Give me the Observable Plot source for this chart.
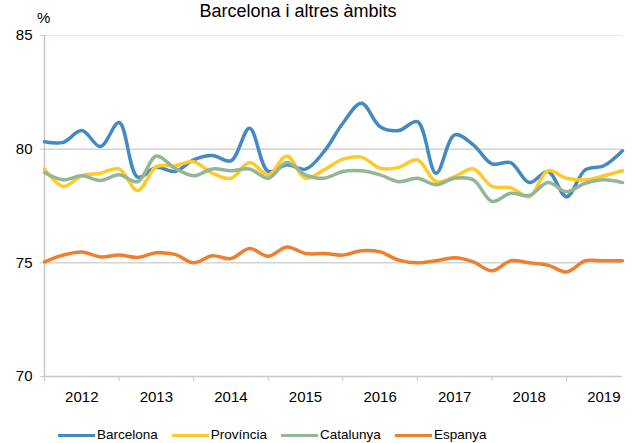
<!DOCTYPE html>
<html>
<head>
<meta charset="utf-8">
<script src="https://cdn.jsdelivr.net/npm/d3@7"></script>
<script src="https://cdn.jsdelivr.net/npm/@observablehq/plot@0.6"></script>
<style>
  html, body { margin: 0; padding: 0; background: #fff; }
  body { width: 637px; height: 443px; position: relative; overflow: hidden; font-family: "Liberation Sans", Arial, sans-serif; color: #000; }
  #title { position: absolute; top: 1px; left: 0; width: 596px; text-align: center; font-size: 18px; line-height: 20px; white-space: nowrap; }
  #unit { position: absolute; left: 37px; top: 10px; font-size: 15px; line-height: 15px; }
  #chart { position: absolute; left: 0; top: 0; }
  #legend { position: absolute; left: 58px; top: 427px; font-size: 13.5px; line-height: 16px; display: flex; align-items: center; white-space: nowrap; }
  #legend .item { display: flex; align-items: center; margin-right: 14px; }
  #legend .sw { display: inline-block; width: 37px; height: 3px; margin-right: 2px; }
</style>
</head>
<body>
<div id="title">Barcelona i altres àmbits</div>
<div id="unit">%</div>
<div id="chart"></div>
<div id="legend"></div>
<script>
// Quarterly series, 2012 Q1 … 2019 Q4 (index 0..31)
const years = ["2012", "2013", "2014", "2015", "2016", "2017", "2018", "2019"];
const seriesNames = ["Barcelona", "Província", "Catalunya", "Espanya"];
const seriesColors = ["#4389c3", "#ffc929", "#93b694", "#ee7f2d"];
const barcelona = [80.33, 80.3, 80.82, 80.12, 81.17, 78.77, 79.2, 79.02, 79.53, 79.72, 79.49, 80.92, 79.02, 79.31, 79.12, 79.9, 81.14, 82.02, 80.99, 80.82, 81.21, 78.94, 80.63, 80.19, 79.35, 79.41, 78.53, 79.02, 77.91, 79.09, 79.27, 79.93];
const provincia = [79.13, 78.36, 78.83, 78.94, 79.13, 78.18, 79.23, 79.27, 79.45, 78.94, 78.72, 79.41, 78.87, 79.7, 78.72, 79.09, 79.56, 79.65, 79.16, 79.2, 79.53, 78.57, 78.79, 79.13, 78.36, 78.31, 77.91, 79.05, 78.72, 78.65, 78.83, 79.05];
const catalunya = [78.97, 78.65, 78.83, 78.62, 78.87, 78.57, 79.7, 79.16, 78.83, 79.13, 79.05, 79.13, 78.72, 79.41, 78.87, 78.72, 79.02, 79.05, 78.87, 78.57, 78.72, 78.43, 78.72, 78.65, 77.7, 78.06, 77.96, 78.53, 78.13, 78.5, 78.65, 78.53];
const espanya = [75.04, 75.34, 75.48, 75.26, 75.34, 75.24, 75.44, 75.37, 75.0, 75.31, 75.19, 75.63, 75.29, 75.7, 75.41, 75.41, 75.34, 75.53, 75.48, 75.12, 75.0, 75.09, 75.22, 75.04, 74.65, 75.09, 75.0, 74.9, 74.6, 75.09, 75.09, 75.09];
const yTicks = [70, 75, 80, 85];

const allSeries = [barcelona, provincia, catalunya, espanya];
const rows = [];
allSeries.forEach((arr, s) => arr.forEach((v, i) => rows.push({series: seriesNames[s], i, v})));

const yearBounds = years.map((y, k) => k * 4);          // tick marks between years
const yearCenters = years.map((y, k) => k * 4 + 2);      // label positions
const yearLabel = d => years[(d - 2) / 4];

const chart = Plot.plot({
  width: 637,
  height: 410,
  marginTop: 35,
  marginBottom: 34,
  marginLeft: 44,
  marginRight: 15,
  style: {fontFamily: "Liberation Sans, Arial, sans-serif", fontSize: "15px", color: "#000", background: "transparent"},
  x: {domain: [0, 31], label: null},
  y: {domain: [70, 85], label: null},
  color: {domain: seriesNames, range: seriesColors},
  marks: [
    Plot.gridY([75, 80], {stroke: "#d4d4d4", strokeOpacity: 1, strokeWidth: 1.5}),
    Plot.gridY([85], {stroke: "#e6e6e6", strokeOpacity: 1, strokeWidth: 1}),
    Plot.ruleY([70], {stroke: "#c8c8c8", strokeWidth: 1.5}),
    Plot.ruleX([0], {stroke: "#c8c8c8", strokeWidth: 1.5}),
    Plot.axisY(yTicks, {tickSize: 4, tickPadding: 8, stroke: "#c8c8c8", fill: "#000", fontSize: 15, label: null}),
    Plot.axisX(yearBounds, {tickSize: 5, tickFormat: () => "", stroke: "#c8c8c8", label: null}),
    Plot.axisX(yearCenters, {tickSize: 0, tickPadding: 15, tickFormat: yearLabel, fill: "#000", fontSize: 15, label: null}),
    Plot.line(rows, {x: "i", y: "v", z: "series", stroke: "series", strokeWidth: 3.5, curve: "catmull-rom"})
  ]
});
document.getElementById("chart").appendChild(chart);

const legend = document.getElementById("legend");
seriesNames.forEach((n, k) => {
  const item = document.createElement("div");
  item.className = "item";
  const sw = document.createElement("span");
  sw.className = "sw";
  sw.style.background = seriesColors[k];
  const t = document.createElement("span");
  t.textContent = n;
  item.appendChild(sw);
  item.appendChild(t);
  legend.appendChild(item);
});
</script>
</body>
</html>
